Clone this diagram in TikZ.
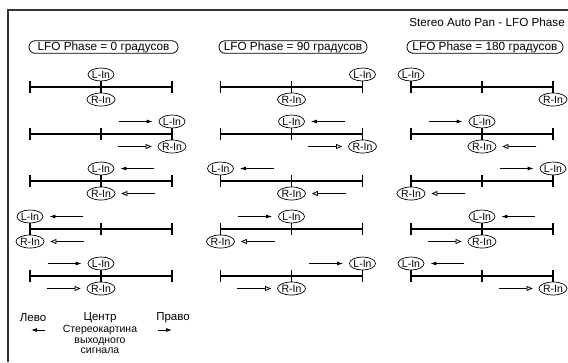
\documentclass[tikz,border=0pt]{standalone}
\usepackage{fontspec}
\setmainfont{Liberation Sans}
\usetikzlibrary{arrows.meta,shapes.geometric,calc}
\newcommand\panscale[3]{%
  \coordinate (#1) at (#2,#3);
  \draw[scaleline] (#1) -- ++(142,0);
  \draw[scaleline] ($(#1)+(0,-6)$) -- ++(0,12);
  \draw[scaleline] ($(#1)+(71,-6)$) -- ++(0,12);
  \draw[scaleline] ($(#1)+(142,-6)$) -- ++(0,12);
}
\newcommand\Lnode[3]{\node[pan] (#1) at ($(#2)+(#3,-12.5)$) {L-In};}
\newcommand\Rnode[3]{\node[pan] (#1) at ($(#2)+(#3,12.5)$) {R-In};}
\newcommand\fromleft[2]{\draw[#2] ([xshift=-40pt]#1.west) -- ([xshift=-6pt]#1.west);}
\newcommand\fromright[2]{\draw[#2] ([xshift=40pt]#1.east) -- ([xshift=6pt]#1.east);}
\begin{document}
\begin{tikzpicture}[x=1pt,y=-1pt,
  scaleline/.style={line width=1.1pt, black},
  pan/.style={ellipse, draw, line width=0.7pt, minimum width=26pt, minimum height=13pt, inner sep=0pt, font=\fontsize{10.5}{10.5}\selectfont, text height=7.5pt, text depth=0pt},
  phasebox/.style={draw, rounded corners=6pt, line width=0.8pt, minimum height=12.5pt, inner sep=0pt, font=\fontsize{11.8}{11.8}\selectfont},
  larr/.style={-{Latex[length=6pt,width=4pt]}, line width=0.8pt},
  rarr/.style={-{Triangle[open,length=6pt,width=5pt]}, line width=0.8pt},
  lbl/.style={font=\fontsize{11.5}{11.5}\selectfont, inner sep=0pt},
  frame/.style={line width=1.6pt, black!80}
]
\useasboundingbox (0,0) rectangle (568,362);
% frame
\coordinate (fa) at (8,362);
\coordinate (fb) at (8,10);
\coordinate (fc) at (568,10);
\draw[frame] (fa) -- (fb) -- (fc);
\node[lbl, anchor=east, font=\fontsize{11.7}{11.7}\selectfont] (title) at (565,22.5) {Stereo Auto Pan - LFO Phase};
% phase boxes
\node[phasebox, minimum width=149pt] (p1) at (103.5,47) {LFO Phase = 0 градусов};
\node[phasebox, minimum width=148pt] (p2) at (293,47) {LFO Phase = 90 градусов};
\node[phasebox, minimum width=156pt] (p3) at (485,47) {LFO Phase = 180 градусов};
% column 1
\panscale{a1}{30}{87}
\Lnode{La1}{a1}{71}\Rnode{Ra1}{a1}{71}
\panscale{a2}{30}{134}
\Lnode{La2}{a2}{142}\Rnode{Ra2}{a2}{142}
\fromleft{La2}{larr}\fromleft{Ra2}{rarr}
\panscale{a3}{30}{181}
\Lnode{La3}{a3}{71}\Rnode{Ra3}{a3}{71}
\fromright{La3}{larr}\fromright{Ra3}{rarr}
\panscale{a4}{30}{229}
\Lnode{La4}{a4}{0}\Rnode{Ra4}{a4}{0}
\fromright{La4}{larr}\fromright{Ra4}{rarr}
\panscale{a5}{30}{276}
\Lnode{La5}{a5}{71}\Rnode{Ra5}{a5}{71}
\fromleft{La5}{larr}\fromleft{Ra5}{rarr}
% column 2
\panscale{b1}{220.5}{87}
\Lnode{Lb1}{b1}{142}\Rnode{Rb1}{b1}{71}
\panscale{b2}{220.5}{134}
\Lnode{Lb2}{b2}{71}\Rnode{Rb2}{b2}{142}
\fromright{Lb2}{larr}\fromleft{Rb2}{rarr}
\panscale{b3}{220.5}{181}
\Lnode{Lb3}{b3}{0}\Rnode{Rb3}{b3}{71}
\fromright{Lb3}{larr}\fromright{Rb3}{rarr}
\panscale{b4}{220.5}{229}
\Lnode{Lb4}{b4}{71}\Rnode{Rb4}{b4}{0}
\fromleft{Lb4}{larr}\fromright{Rb4}{rarr}
\panscale{b5}{220.5}{276}
\Lnode{Lb5}{b5}{142}\Rnode{Rb5}{b5}{71}
\fromleft{Lb5}{larr}\fromleft{Rb5}{rarr}
% column 3
\panscale{c1}{411}{87}
\Lnode{Lc1}{c1}{0}\Rnode{Rc1}{c1}{142}
\panscale{c2}{411}{134}
\Lnode{Lc2}{c2}{71}\Rnode{Rc2}{c2}{71}
\fromleft{Lc2}{larr}\fromright{Rc2}{rarr}
\panscale{c3}{411}{181}
\Lnode{Lc3}{c3}{142}\Rnode{Rc3}{c3}{0}
\fromleft{Lc3}{larr}\fromright{Rc3}{rarr}
\panscale{c4}{411}{229}
\Lnode{Lc4}{c4}{71}\Rnode{Rc4}{c4}{71}
\fromright{Lc4}{larr}\fromleft{Rc4}{rarr}
\panscale{c5}{411}{276}
\Lnode{Lc5}{c5}{0}\Rnode{Rc5}{c5}{142}
\fromright{Lc5}{larr}\fromleft{Rc5}{rarr}
% legend
\node[lbl] (left) at (33,318) {Лево};
\node[lbl] (center) at (100,318) {Центр};
\node[lbl] (right) at (173,318) {Право};
\node[lbl, align=center, font=\fontsize{10.5}{10.5}\selectfont, anchor=north] (stereo) at (100,325) {Стереокартина\\выходного\\сигнала};
\coordinate (la) at (45,330);
\coordinate (lb) at (31,330);
\coordinate (ra) at (158,330);
\coordinate (rb) at (172,330);
\draw[larr] (la) -- (lb);
\draw[larr] (ra) -- (rb);
\end{tikzpicture}
\end{document}
